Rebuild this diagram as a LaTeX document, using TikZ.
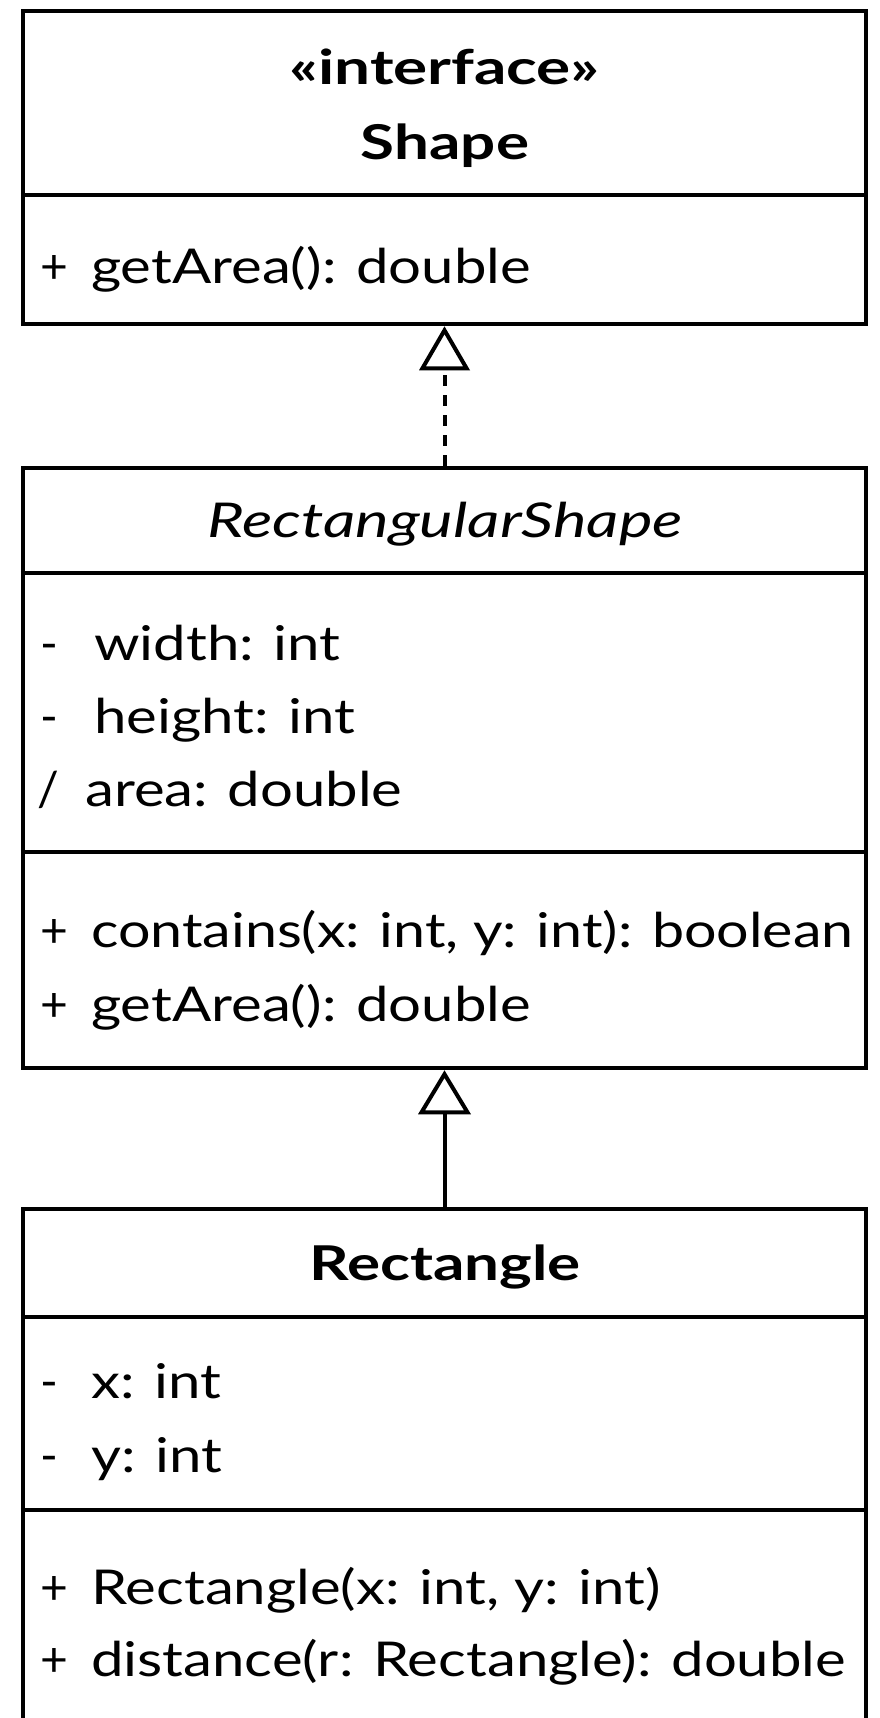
\documentclass[tikz,border=0pt]{standalone}
\usepackage{fontspec}
\setmainfont{Lato}
\usetikzlibrary{arrows.meta}
% one member row: visibility marker in a fixed-width slot, then the member text
\newcommand{\umlrow}[4][1.21]{\makebox[#2][l]{#3}\scalebox{#1}[1]{#4}}
\newcommand{\umltitle}[2][1.29]{\scalebox{#1}[1]{#2}}
\begin{document}
\begin{tikzpicture}[x=1pt,y=-1pt,
  umlbox/.style={draw=black,line width=4.5pt,rectangle,inner sep=0pt,minimum width=843pt},
  sep/.style={line width=4.5pt},
  txt/.style={inner sep=0pt,font=\fontsize{48}{48}\selectfont},
  lbl/.style={txt,anchor=base west},
  ttl/.style={txt,anchor=base},
  realize/.style={line width=4pt,dash pattern=on 11pt off 9pt,
    -{Triangle[open,length=44pt,width=50pt,line width=4pt]}},
  inherit/.style={line width=4pt,
    -{Triangle[open,length=44pt,width=52pt,line width=4pt]}}
]
\useasboundingbox (0,0) rectangle (880,1718);
\fill[white] (0,0) rectangle (880,1718);

% class boxes
\node[umlbox,minimum height=313pt] (shape) at (444.5,167.5) {};
\node[umlbox,minimum height=600pt] (rshape) at (444.5,768) {};
\begin{scope}
\clip (0,0) rectangle (880,1718);
\node[umlbox,minimum height=531pt] (rect) at (444.5,1474.5) {};
\end{scope}

% compartment separators
\draw[sep] (shape.west |- 0,195) -- (shape.east |- 0,195);
\draw[sep] (rshape.west |- 0,573) -- (rshape.east |- 0,573);
\draw[sep] (rshape.west |- 0,852) -- (rshape.east |- 0,852);
\draw[sep] (rect.west |- 0,1317) -- (rect.east |- 0,1317);
\draw[sep] (rect.west |- 0,1510) -- (rect.east |- 0,1510);

% Shape
\node[ttl,font=\fontsize{48}{48}\selectfont\bfseries] (shst) at (444.5,85) {\umltitle[1.33]{«interface»}};
\node[ttl,font=\fontsize{48}{48}\selectfont\bfseries] (shnm) at (445,160) {\umltitle{Shape}};
\node[lbl] (shop1) at (40,283) {\umlrow{51pt}{+}{getArea(): double}};

% RectangularShape
\node[ttl,font=\fontsize{48}{48}\selectfont\itshape] (rsnm) at (445,537) {\umltitle[1.32]{RectangularShape}};
\node[lbl] (rsat1) at (40,660) {\umlrow{54pt}{-}{width: int}};
\node[lbl] (rsat2) at (40,733) {\umlrow{54pt}{-}{height: int}};
\node[lbl] (rsat3) at (37,806) {\umlrow{48pt}{/}{area: double}};
\node[lbl] (rsop1) at (40,947) {\umlrow[1.195]{51pt}{+}{contains(x: int, y: int): boolean}};
\node[lbl] (rsop2) at (40,1021) {\umlrow{51pt}{+}{getArea(): double}};

% Rectangle
\node[ttl,font=\fontsize{48}{48}\selectfont\bfseries] (rcnm) at (445,1280) {\umltitle{Rectangle}};
\node[lbl] (rcat1) at (40,1398) {\umlrow{51pt}{-}{x: int}};
\node[lbl] (rcat2) at (40,1472) {\umlrow{51pt}{-}{y: int}};
\node[lbl] (rcop1) at (40,1604) {\umlrow{51pt}{+}{Rectangle(x: int, y: int)}};
\node[lbl] (rcop2) at (40,1676) {\umlrow{51pt}{+}{distance(r: Rectangle): double}};

% relations
\draw[realize] (rshape.north) -- (shape.south);
\draw[inherit] (rect.north) -- (rshape.south);
\end{tikzpicture}
\end{document}
